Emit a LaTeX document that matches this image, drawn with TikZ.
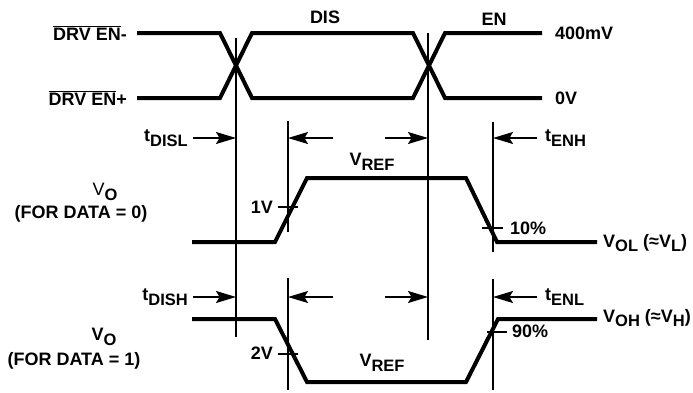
\documentclass[tikz,border=0pt]{standalone}
\usepackage{fontspec}
\setmainfont{Liberation Sans}
\usetikzlibrary{arrows.meta}
\newcommand{\lowsub}[1]{\raisebox{-0.25em}{\fontsize{16.5}{17}\selectfont #1}}
\newcommand{\barred}[1]{\ensuremath{\overline{\mbox{#1}}}}
\begin{document}
\begin{tikzpicture}[x=1pt,y=-1pt,
  font=\fontsize{18}{21}\selectfont\bfseries,
  sig/.style={line width=4pt},
  vline/.style={line width=1.2pt},
  tickmark/.style={line width=1.2pt},
  tarrow/.style={line width=1.3pt,-{Stealth[length=20pt,width=12pt,inset=3.5pt]}},
  lbl/.style={inner sep=0pt}]
\useasboundingbox (0,0) rectangle (693,392);
% differential driver enable
\draw[sig] (137,33) -- (220,33) -- (252,98) -- (413,98) -- (445,33) -- (542,33);
\draw[sig] (137,98) -- (220,98) -- (252,33) -- (413,33) -- (445,98) -- (542,98);
% vertical reference lines
\draw[vline] (236,38) -- (236,337);
\draw[vline] (288,121) -- (288,232);
\draw[vline] (288,278) -- (288,390);
\draw[vline] (428,33) -- (428,340);
\draw[vline] (493,122) -- (493,252);
\draw[vline] (493,279) -- (493,390);
% output waveforms
\draw[sig] (192,242) -- (275,242) -- (307,178) -- (466,178) -- (497,242) -- (597,242);
\draw[sig] (192,319) -- (275,319) -- (307,382) -- (466,382) -- (498,319) -- (597,319);
% ticks
\draw[tickmark] (278,207) -- (298,207);
\draw[tickmark] (482,228) -- (503,228);
\draw[tickmark] (278,354) -- (298,354);
\draw[tickmark] (487,332) -- (507,332);
% timing arrows
\foreach \yy in {138,297}{
  \draw[tarrow] (193,\yy) -- (236,\yy);
  \draw[tarrow] (333,\yy) -- (288,\yy);
  \draw[tarrow] (385,\yy) -- (428,\yy);
  \draw[tarrow] (537,\yy) -- (493,\yy);
}
% labels
\node[lbl,anchor=east] (drvm) at (127,33) {\barred{DRV EN}-};
\node[lbl,anchor=east] (drvp) at (127,98) {\barred{DRV EN}+};
\node[lbl] (dis) at (325,17) {DIS};
\node[lbl] (en) at (494,19) {EN};
\node[lbl,anchor=west] (v400) at (555,33) {400mV};
\node[lbl,anchor=west] (v0) at (555,98) {0V};
\node[lbl,anchor=east] (tdisl) at (188,138) {t\lowsub{DISL}};
\node[lbl,anchor=west] (tenh) at (545,138) {t\lowsub{ENH}};
\node[lbl] (vref1) at (372,162) {V\lowsub{REF}};
\node[lbl] (vo0) at (105,192) {\mdseries V\bfseries\lowsub{O}};
\node[lbl] (fd0) at (81,214) {(FOR DATA = 0)};
\node[lbl,anchor=east] (v1) at (273,207) {1V};
\node[lbl,anchor=west] (p10) at (510,228) {10\%};
\node[lbl,anchor=west] (vol) at (603,243) {V\lowsub{OL} (≈V\lowsub{L})};
\node[lbl,anchor=east] (tdish) at (188,297) {t\lowsub{DISH}};
\node[lbl,anchor=west] (tenl) at (545,297) {t\lowsub{ENL}};
\node[lbl] (vo1) at (104,337) {V\lowsub{O}};
\node[lbl] (fd1) at (74,361) {(FOR DATA = 1)};
\node[lbl,anchor=east] (v2) at (273,353) {2V};
\node[lbl,anchor=west] (p90) at (512,331) {90\%};
\node[lbl,anchor=west] (voh) at (603,318) {V\lowsub{OH} (≈V\lowsub{H})};
\node[lbl] (vref2) at (382,363) {V\lowsub{REF}};
\end{tikzpicture}
\end{document}
